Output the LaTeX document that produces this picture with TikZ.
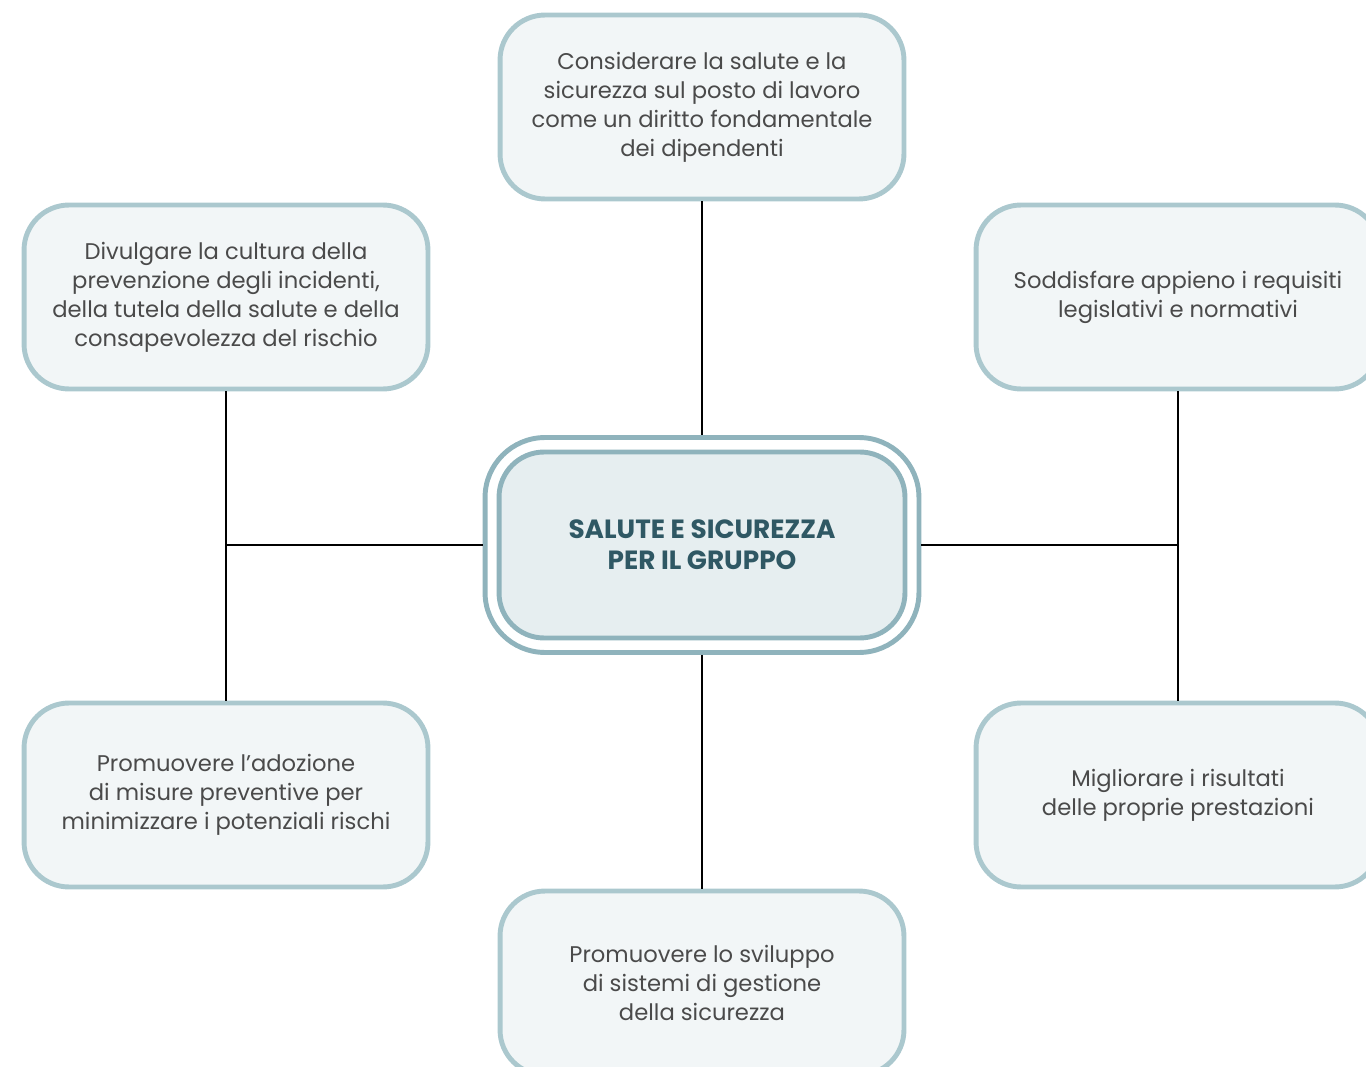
\documentclass[tikz,border=0pt]{standalone}
\usepackage{fontspec}
\setmainfont{Poppins}
\usepackage{tikz}

\definecolor{bordo}{HTML}{ABC8CE}
\definecolor{fondo}{HTML}{F2F6F7}
\definecolor{bordocentro}{HTML}{8FB3BC}
\definecolor{fondocentro}{HTML}{E6EEF0}
\definecolor{testo}{HTML}{4A4A4A}
\definecolor{titolo}{HTML}{2F5864}

\tikzset{
    obiettivo/.style={draw=bordo, fill=fondo, line width=2.8pt, rounded corners=0.9cm,
        minimum width=8.08cm, minimum height=3.68cm, align=center, text=testo,
        font=\fontsize{12.9pt}{16.5pt}\selectfont},
    linea/.style={black, line width=0.6pt}
}

\begin{document}
\begin{tikzpicture}[x=0.02cm, y=-0.02cm]
        \useasboundingbox (0,0) rectangle (1366,1067);
        \clip (0,0) rectangle (1366,1067);

        \node[obiettivo] (alto) at (702,107) {Considerare la salute e la\\sicurezza sul posto di lavoro\\come un diritto fondamentale\\dei dipendenti};
        \node[obiettivo] (sx1) at (226,297) {Divulgare la cultura della\\prevenzione degli incidenti,\\della tutela della salute e della\\consapevolezza del rischio};
        \node[obiettivo] (dx1) at (1178,297) {Soddisfare appieno i requisiti\\legislativi e normativi};
        \node[obiettivo] (sx2) at (226,795) {Promuovere l’adozione\\di misure preventive per\\minimizzare i potenziali rischi};
        \node[obiettivo] (dx2) at (1178,795) {Migliorare i risultati\\delle proprie prestazioni};
        \node[obiettivo] (basso) at (702,983) {Promuovere lo sviluppo\\di sistemi di gestione\\della sicurezza};

        \node[draw=bordocentro, line width=2.8pt, rounded corners=1.2cm,
            minimum width=8.68cm, minimum height=4.3cm] (centro) at (702,545) {};
        \node[draw=bordocentro, fill=fondocentro, line width=2.8pt, rounded corners=0.9cm,
            minimum width=8.12cm, minimum height=3.72cm, align=center, text=titolo,
            font=\fontsize{15pt}{17.5pt}\selectfont\bfseries] (titolo) at (702,545) {SALUTE E SICUREZZA\\PER IL GRUPPO};

        \coordinate (nodosx) at (sx1 |- centro.west);
        \coordinate (nodedx) at (dx1 |- centro.east);

        \draw[linea] (alto) -- (centro);
        \draw[linea] (centro) -- (basso);
        \draw[linea] (sx1) -- (sx2);
        \draw[linea] (dx1) -- (dx2);
        \draw[linea] (centro.west) -- (nodosx);
        \draw[linea] (centro.east) -- (nodedx);
    \end{tikzpicture}
\end{document}
